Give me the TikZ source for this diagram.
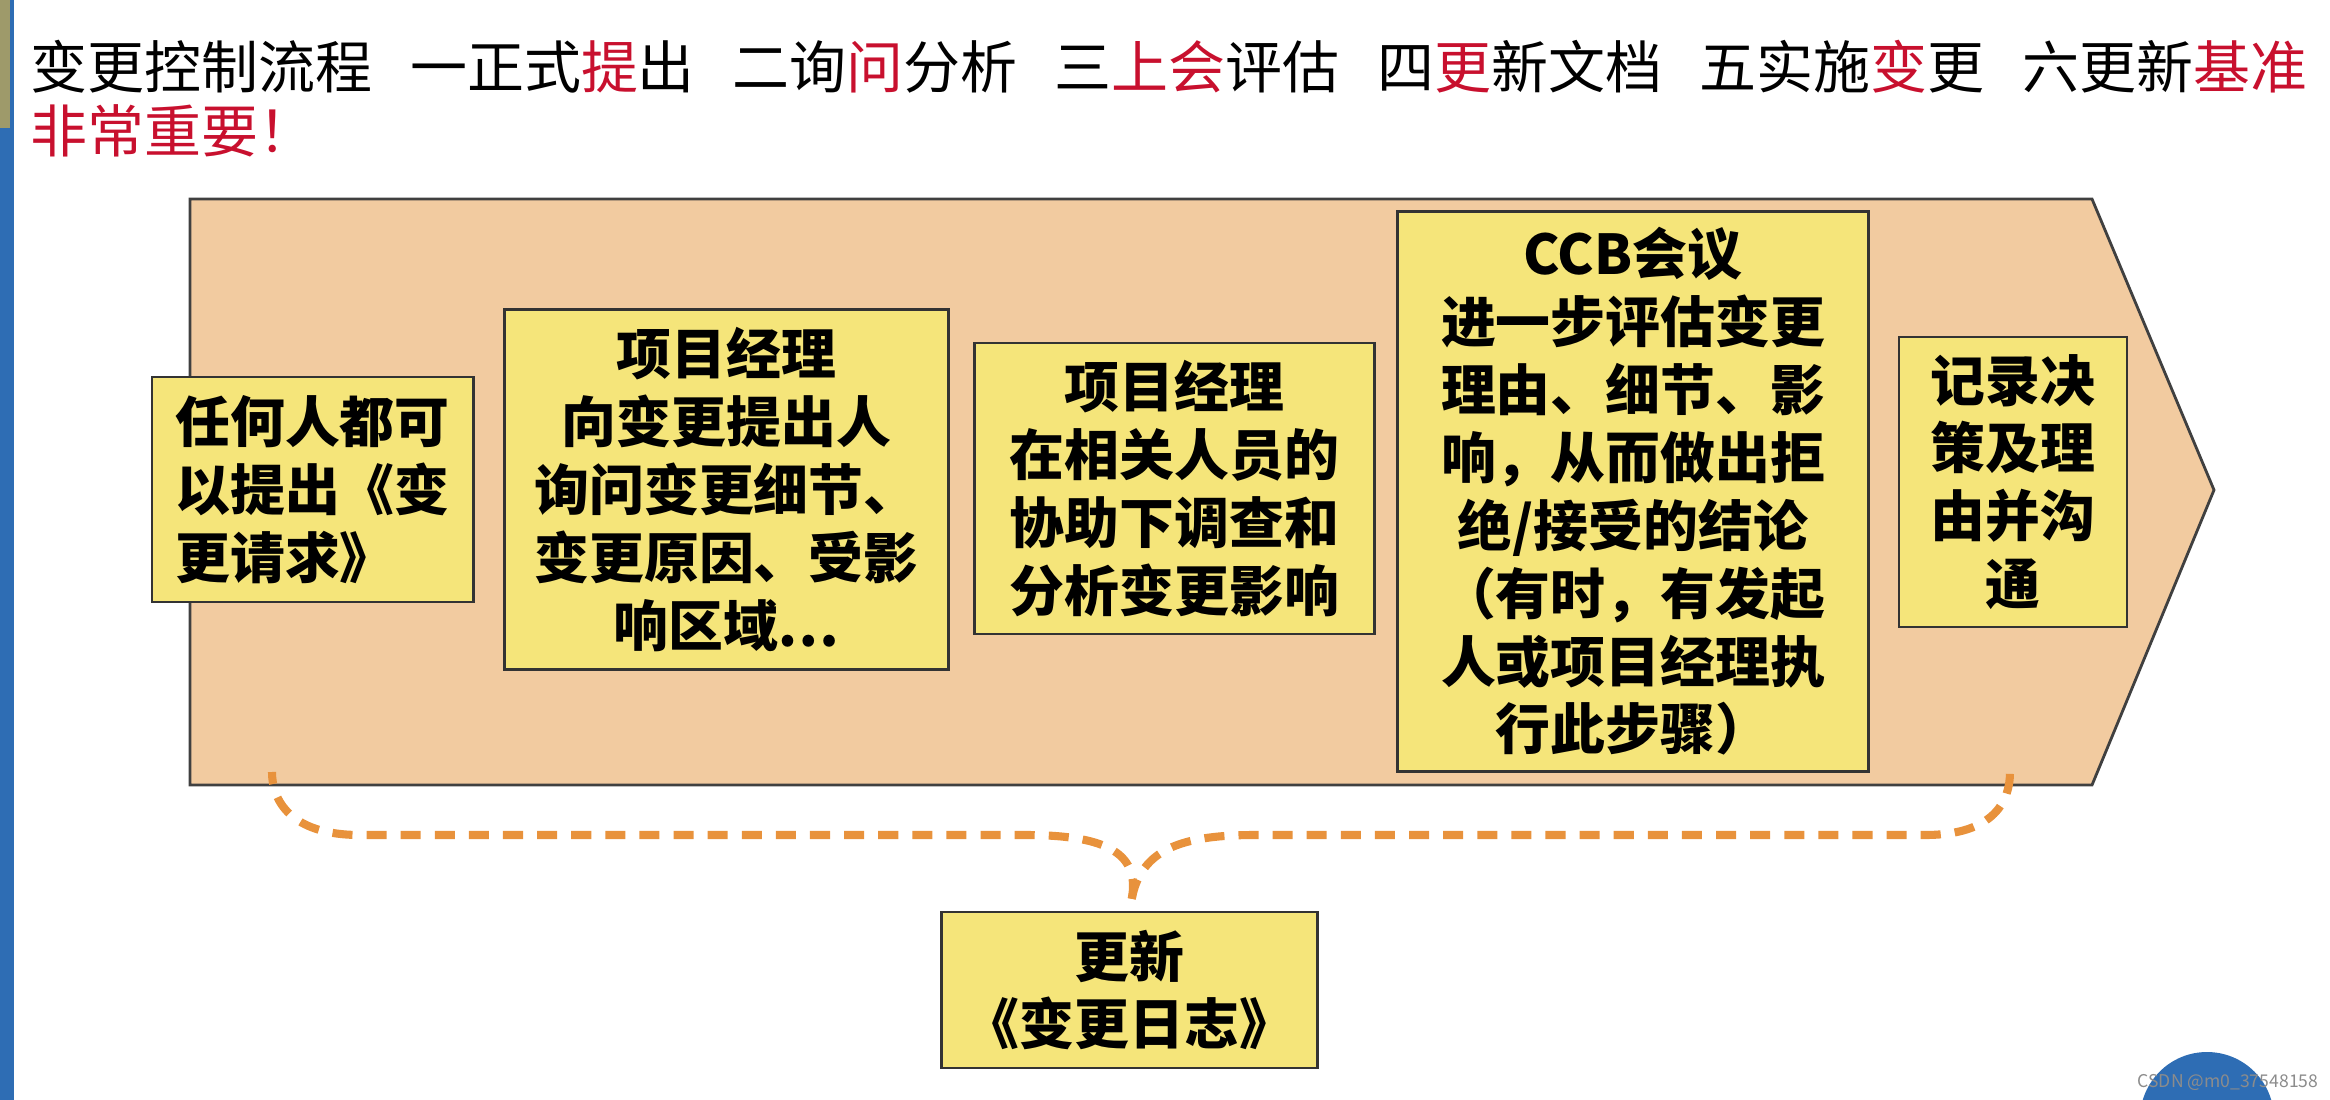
\documentclass[tikz,border=0pt]{standalone}
\usepackage{fontspec}
\newfontfamily\cjk{Noto Sans CJK SC}
\usetikzlibrary{calc}
\definecolor{peach}{HTML}{F2CBA0}
\definecolor{stickyyellow}{HTML}{F5E57A}
\definecolor{braceorange}{HTML}{E8923C}
\definecolor{titlered}{HTML}{C8102E}
\definecolor{slideblue}{HTML}{2E6DB4}
\newcommand{\gap}{\hspace{0.66em}}
\newcommand{\hl}[1]{\textcolor{titlered}{#1}}

\begin{document}
\begin{tikzpicture}[x=0.01cm,y=-0.01cm,
    card/.style={draw=black!80,line width=0.8pt,fill=stickyyellow,inner sep=0pt,
      font=\cjk\bfseries\fontsize{15.6}{19.3}\selectfont,align=center},
    brace/.style={draw=braceorange,line width=2.3pt,dash pattern=on 5.7pt off 4pt}]
    \useasboundingbox (0,0) rectangle (2330,1100);
    \fill[slideblue] (0,0) rectangle (14,1100);
    \fill[black!45!olive!60] (0,0) rectangle (10,128);
    \fill[slideblue] (2207,1119) circle (67);
    \node[anchor=west,inner sep=0pt,font=\cjk\fontsize{16.2}{18}\selectfont] (title) at (30,67)
      {变更控制流程\gap 一正式\hl{提}出\gap 二询\hl{问}分析\gap 三\hl{上会}评估\gap 四\hl{更}新文档\gap 五实施\hl{变}更\gap 六更新\hl{基准}};
    \node[anchor=west,inner sep=0pt,font=\cjk\fontsize{16.2}{18}\selectfont,text=titlered] (note) at (30,131)
      {非常重要！};
    \coordinate (p0) at (190,199);
    \coordinate (p1) at (2092,199);
    \coordinate (p2) at (2214,490);
    \coordinate (p3) at (2092,785);
    \coordinate (p4) at (190,785);
    \draw[black!75,line width=0.8pt,fill=peach] (p0) -- (p1) -- (p2) -- (p3) -- (p4) -- cycle;
    \coordinate (lend) at (272,772);
    \coordinate (rend) at (2010,772);
    \node[card,minimum width=3.21cm,minimum height=2.25cm,align=left] (req) at (312.5,489.5)
      {任何人都可\\以提出《变\\更请求》};
    \node[card,minimum width=4.43cm,minimum height=3.59cm] (ask) at (726.5,489.5)
      {项目经理\\向变更提出人\\询问变更细节、\\变更原因、受影\\响区域…};
    \node[card,minimum width=4.00cm,minimum height=2.91cm] (study) at (1174.5,488.5)
      {项目经理\\在相关人员的\\协助下调查和\\分析变更影响};
    \node[card,minimum width=4.70cm,minimum height=5.59cm] (ccb) at (1633,491.5)
      {CCB会议\\进一步评估变更\\理由、细节、影\\响，从而做出拒\\绝/接受的结论\\（有时，有发起\\人或项目经理执\\行此步骤）};
    \node[card,minimum width=2.28cm,minimum height=2.90cm] (record) at (2013,482)
      {记录决\\策及理\\由并沟\\通};
    \node[card,minimum width=3.75cm,minimum height=1.56cm] (log) at (1129.5,990)
      {更新\\《变更日志》};
    \draw[brace,shorten <=3.4pt] (log.north) .. controls (1141,850) and (1100,835) .. (1025,835)
      -- (360,835) .. controls (290,835) and (272,800) .. (lend);
    \draw[brace,shorten <=3.4pt] (log.north) .. controls (1141,850) and (1180,835) .. (1255,835)
      -- (1925,835) .. controls (1995,835) and (2010,800) .. (rend);
    \node[inner sep=0pt,font=\cjk\fontsize{5}{6}\selectfont,text=black!45] (mark) at (2228,1082)
      {CSDN @m0\_37548158};
  \end{tikzpicture}
\end{document}
